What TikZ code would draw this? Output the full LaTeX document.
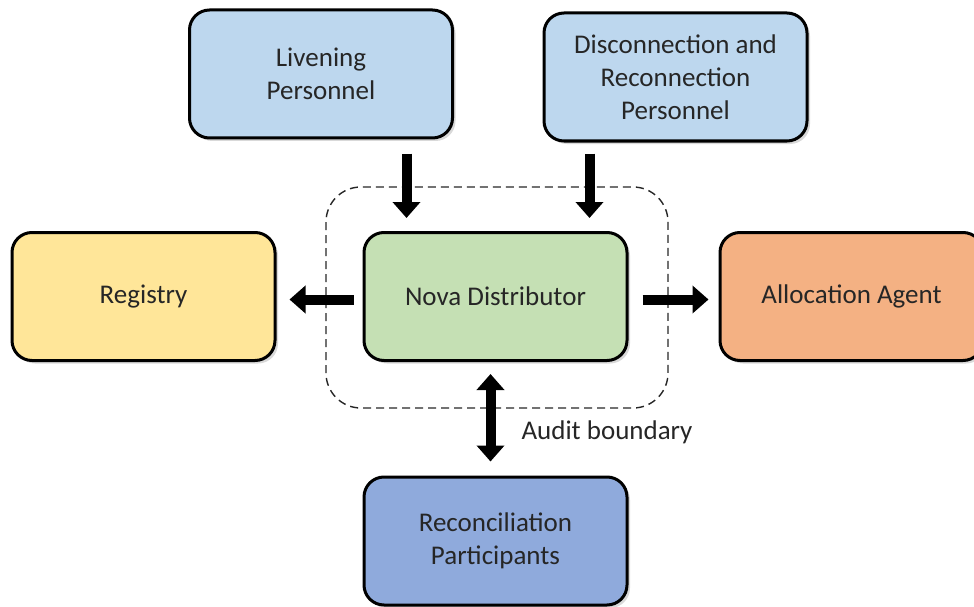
\documentclass[tikz,border=0pt]{standalone}
\usepackage{fontspec}
\setmainfont{Carlito}
\usetikzlibrary{arrows.meta,shadows}
\definecolor{paleblue}{HTML}{BDD7EE}
\definecolor{paleyellow}{HTML}{FFE699}
\definecolor{palegreen}{HTML}{C5E0B4}
\definecolor{paleorange}{HTML}{F4B183}
\definecolor{midblue}{HTML}{8FAADC}

\begin{document}
\begin{tikzpicture}[x=1pt,y=-1pt,
	party/.style={draw=black, line width=3pt, rounded corners=20pt, minimum width=263pt,
	minimum height=128pt, align=center, text=black!85, font=\fontsize{27}{33}\selectfont,
	drop shadow={opacity=0.3, shadow xshift=3pt, shadow yshift=-3pt}},
	bigarrow/.style={line width=10pt, -{Triangle[width=27pt,length=16pt]}},
	bothways/.style={line width=10pt, {Triangle[width=27pt,length=16pt]}-{Triangle[width=27pt,length=16pt]}}]
\useasboundingbox (0,0) rectangle (974,607);
\node[party, fill=paleblue] (liv) at (321,74) {Livening\\Personnel};
\node[party, fill=paleblue] (disc) at (675.5,77) {Disconnection and\\Reconnection\\Personnel};
\node[party, fill=paleyellow] (reg) at (143.5,296.5) {Registry};
\node[party, fill=palegreen] (nova) at (495.5,296.5) {Nova Distributor};
\node[party, fill=paleorange] (alloc) at (851.5,296.5) {Allocation Agent};
\node[party, fill=midblue] (rec) at (495.5,541) {Reconciliation\\Participants};
% audit boundary round the distributor
\draw[dashed, line width=1.4pt, black!85, dash pattern=on 8pt off 5pt, rounded corners=35pt] (326,187) rectangle (668,408);
\node[anchor=west, text=black!85, font=\fontsize{27}{30}\selectfont] (audit) at (518,432) {Audit boundary};
\coordinate (inL) at ([xshift=44pt,yshift=13pt]nova.north west);
\coordinate (inR) at ([xshift=-39pt,yshift=13pt]nova.north east);
\draw[bigarrow] ([yshift=-14pt]liv.south -| inL) -- (inL);
\draw[bigarrow] ([yshift=-11pt]disc.south -| inR) -- (inR);
\draw[bigarrow] ([xshift=-9pt,yshift=-3pt]nova.west) -- ([xshift=13pt,yshift=-3pt]reg.east);
\draw[bigarrow] ([xshift=14pt,yshift=-3pt]nova.east) -- ([xshift=-10pt,yshift=-3pt]alloc.west);
\draw[bothways] ([xshift=-5pt,yshift=-12pt]nova.south) -- ([xshift=-5pt,yshift=14pt]rec.north);
\end{tikzpicture}
\end{document}
